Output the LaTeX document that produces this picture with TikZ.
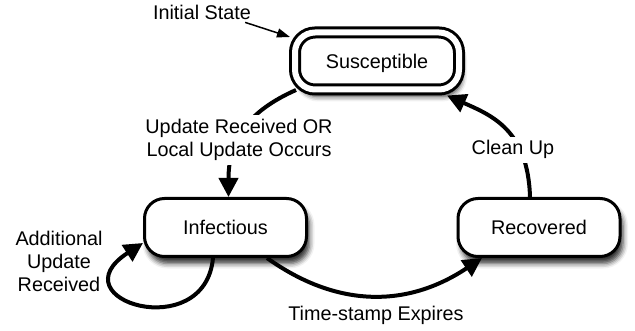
\documentclass[tikz,border=0pt]{standalone}
\usepackage{fontspec}
\setmainfont{Liberation Sans}
\usetikzlibrary{arrows.meta,shadows.blur}
\begin{document}
\begin{tikzpicture}[x=1pt,y=-1pt,
  every node/.style={font=\fontsize{19.8}{23.5}\selectfont},
  stateshadow/.style={blur shadow={shadow xshift=3pt, shadow yshift=-7pt, shadow blur radius=5pt, shadow opacity=80}},
  state/.style={draw, line width=3pt, rectangle, rounded corners=20pt, fill=white,
    minimum width=162pt, minimum height=58pt, inner sep=0pt, outer sep=1.5pt,
    text height=14.2pt, text depth=0pt, stateshadow},
  startstate/.style={state, double=white, double distance=6pt, minimum width=164pt,
    minimum height=57pt, outer sep=6pt},
  thick arrow/.style={line width=4pt, -{Triangle[length=19pt,width=19pt]}},
  thin arrow/.style={line width=1.5pt, -{Triangle[length=13pt,width=9pt]}},
  lab/.style={fill=white, inner sep=4pt, align=center}
]
\useasboundingbox (0,0) rectangle (635,331);

\node[startstate] (S) at (377,61) {Susceptible};
\node[state] (I) at (225.5,227.5) {Infectious};
\node[state] (R) at (539,227.5) {Recovered};

\node[anchor=base, inner sep=2pt] (init) at (202,20) {Initial State};
\draw[thin arrow] ([xshift=-8pt]init.south east) -- ([xshift=1pt,yshift=24pt]S.west);

% Susceptible -> Infectious
\draw[thick arrow] ([xshift=7pt,yshift=5.5pt]S.south west)
  .. controls +(-45,20) and +(0,-60) .. ([xshift=3pt]I.north);
\node[lab, anchor=base] (upd) at (239,157) {Update Received OR\\Local Update Occurs};

% Recovered -> Susceptible
\draw[thick arrow] ([xshift=-9pt]R.north)
  .. controls +(-2,-67) and +(45,20) .. ([xshift=-18pt]S.south east);
\node[lab, anchor=base] (clean) at (513,155) {Clean Up};

% Infectious -> Recovered
\draw[thick arrow] ([xshift=41.5pt]I.south)
  .. controls +(70,50) and +(-75,50) .. ([xshift=25.5pt]R.south west);
\node[anchor=base, inner sep=2pt] (expire) at (376,320) {Time-stamp Expires};

% Infectious self loop
\draw[thick arrow] ([xshift=-12.5pt]I.south)
  .. controls +(-8,87) and +(-88,57) .. ([yshift=-15.5pt]I.west);
\node[anchor=base, align=center, inner sep=2pt] (addl) at (59,292) {Additional\\Update\\Received};
\end{tikzpicture}
\end{document}
